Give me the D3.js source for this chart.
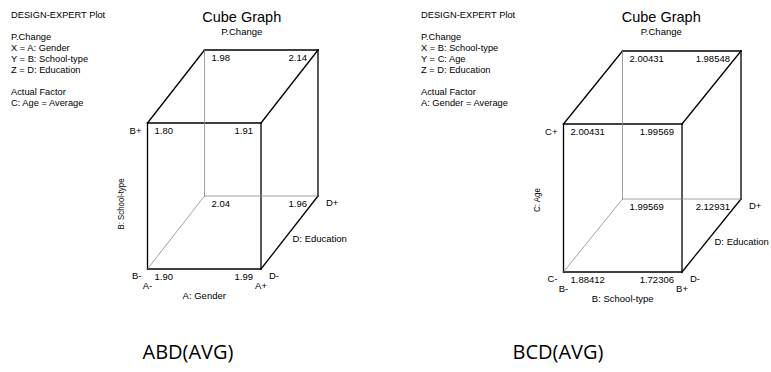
<!DOCTYPE html>
<html>
<head>
<meta charset="utf-8">
<script src="https://cdn.jsdelivr.net/npm/d3@7"></script>
<style>
  html, body { margin: 0; padding: 0; background: #fff; }
  svg { display: block; }
  text { font-family: Arial, "Liberation Sans", sans-serif; fill: #000; }
</style>
</head>
<body>
<svg id="chart" width="771" height="372"></svg>
<script>
// Corner order: [x, y, z] levels, -1 = low, +1 = high
const cornerLevels = [
  [-1, -1, -1], [1, -1, -1], [-1, 1, -1], [1, 1, -1],
  [-1, -1, 1], [1, -1, 1], [-1, 1, 1], [1, 1, 1]
];

// Cube 1: X = A: Gender, Y = B: School-type, Z = D: Education
const abdValues = ["1.90", "1.99", "1.80", "1.91", "2.04", "1.96", "1.98", "2.14"];
const abdInfo = ["DESIGN-EXPERT Plot", "", "P.Change", "X = A: Gender", "Y = B: School-type",
  "Z = D: Education", "", "Actual Factor", "C: Age = Average"];
const abdAxes = { x: "A", xName: "A: Gender", y: "B", yName: "B: School-type", z: "D", zName: "D: Education" };

// Cube 2: X = B: School-type, Y = C: Age, Z = D: Education
const bcdValues = ["1.88412", "1.72306", "2.00431", "1.99569", "1.99569", "2.12931", "2.00431", "1.98548"];
const bcdInfo = ["DESIGN-EXPERT Plot", "", "P.Change", "X = B: School-type", "Y = C: Age",
  "Z = D: Education", "", "Actual Factor", "A: Gender = Average"];
const bcdAxes = { x: "B", xName: "B: School-type", y: "C", yName: "C: Age", z: "D", zName: "D: Education" };

const captions = ["ABD(AVG)", "BCD(AVG)"];

const svg = d3.select("#chart");

function drawCube(opt) {
  const g = svg.append("g");
  const x = d3.scaleLinear().domain([-1, 1]).range([opt.left, opt.right]);
  const y = d3.scaleLinear().domain([-1, 1]).range([opt.bottom, opt.top]);
  const zx = d3.scaleLinear().domain([-1, 1]).range([0, opt.depthX]);
  const zy = d3.scaleLinear().domain([-1, 1]).range([0, opt.depthY]);
  const px = c => x(c[0]) + zx(c[2]);
  const py = c => y(c[1]) + zy(c[2]);

  // Info block
  g.append("g").selectAll("text").data(opt.info).join("text")
    .attr("x", opt.infoX)
    .attr("y", (d, i) => 18 + i * 11)
    .style("font-size", "9.3px")
    .text(d => d);

  // Title
  const cx = (opt.left + opt.right + opt.depthX) / 2 + 9;
  g.append("text").attr("x", cx).attr("y", 22).attr("text-anchor", "middle")
    .style("font-size", "14.5px").text("Cube Graph");
  g.append("text").attr("x", cx).attr("y", 35).attr("text-anchor", "middle")
    .style("font-size", "9.5px").text("P.Change");

  // Edges: pairs of corner indices
  const edges = [
    [0, 1], [2, 3], [0, 2], [1, 3],
    [6, 7], [5, 7], [2, 6], [3, 7], [1, 5],
    [4, 5], [4, 6], [0, 4]
  ];
  // hidden edges are grey and thin
  const hidden = new Set(["4-5", "4-6", "0-4"]);
  g.append("g").selectAll("line").data(edges).join("line")
    .attr("x1", d => px(cornerLevels[d[0]]))
    .attr("y1", d => py(cornerLevels[d[0]]))
    .attr("x2", d => px(cornerLevels[d[1]]))
    .attr("y2", d => py(cornerLevels[d[1]]))
    .attr("stroke", d => hidden.has(d[0] + "-" + d[1]) ? "#8a8a8a" : "#000")
    .attr("stroke-width", d => hidden.has(d[0] + "-" + d[1]) ? 0.8 : 1.3)
    .attr("stroke-linecap", "square");

  // Corner values (right-hand labels on the back face sit clear of the slanted edge)
  g.append("g").selectAll("text").data(opt.values).join("text")
    .attr("x", (d, i) => {
      const c = cornerLevels[i];
      if (c[0] < 0) return px(c) + 7;
      return px(c) - (c[2] > 0 ? 11 : 8);
    })
    .attr("y", (d, i) => py(cornerLevels[i]) + 11)
    .attr("text-anchor", (d, i) => cornerLevels[i][0] < 0 ? "start" : "end")
    .style("font-size", "9.5px")
    .text(d => d);

  const fs = "9.5px";
  const a = opt.axes;
  const c000 = cornerLevels[0], c100 = cornerLevels[1], c010 = cornerLevels[2];
  const c101 = cornerLevels[5];
  // Y level labels
  g.append("text").attr("x", px(c010) - 6).attr("y", py(c010) + 11)
    .attr("text-anchor", "end").style("font-size", fs).text(a.y + "+");
  g.append("text").attr("x", px(c000) - 6).attr("y", py(c000) + 10)
    .attr("text-anchor", "end").style("font-size", fs).text(a.y + "-");
  // X level labels
  g.append("text").attr("x", px(c000)).attr("y", py(c000) + 20)
    .attr("text-anchor", "middle").style("font-size", fs).text(a.x + "-");
  g.append("text").attr("x", px(c100)).attr("y", py(c100) + 20)
    .attr("text-anchor", "middle").style("font-size", fs).text(a.x + "+");
  // Z level labels
  g.append("text").attr("x", px(c100) + 8).attr("y", py(c100) + 10)
    .style("font-size", fs).text(a.z + "-");
  g.append("text").attr("x", px(c101) + 8).attr("y", py(c101) + 10)
    .style("font-size", fs).text(a.z + "+");
  // Axis names
  g.append("text").attr("x", (opt.left + opt.right) / 2).attr("y", opt.bottom + 30)
    .attr("text-anchor", "middle").style("font-size", fs).text(a.xName);
  g.append("text").attr("x", (px(c100) + px(c101)) / 2 + 3).attr("y", (py(c100) + py(c101)) / 2 + 9)
    .style("font-size", fs).text(a.zName);
  const yx = opt.left - 24, yy = (opt.top + opt.bottom) / 2 + opt.yNameShift;
  g.append("text").attr("transform", `translate(${yx},${yy}) rotate(-90)`)
    .attr("text-anchor", "middle").style("font-size", "9.5px")
    .attr("textLength", opt.yNameLen).attr("lengthAdjust", "spacingAndGlyphs")
    .text(a.yName);

  // Caption
  svg.append("text").attr("x", opt.captionX).attr("y", 359)
    .attr("text-anchor", "middle")
    .style("font-family", "'Open Sans', sans-serif").style("font-size", "20px")
    .text(opt.caption);
}

drawCube({
  left: 147.5, right: 261, top: 123, bottom: 269, depthX: 57, depthY: -73,
  infoX: 11, info: abdInfo, values: abdValues, axes: abdAxes,
  yNameLen: 51, yNameShift: 8, caption: captions[0], captionX: 188
});
drawCube({
  left: 563.5, right: 682, top: 124, bottom: 272, depthX: 59, depthY: -73,
  infoX: 421, info: bcdInfo, values: bcdValues, axes: bcdAxes,
  yNameLen: 24, yNameShift: 2, caption: captions[1], captionX: 558
});
</script>
</body>
</html>
